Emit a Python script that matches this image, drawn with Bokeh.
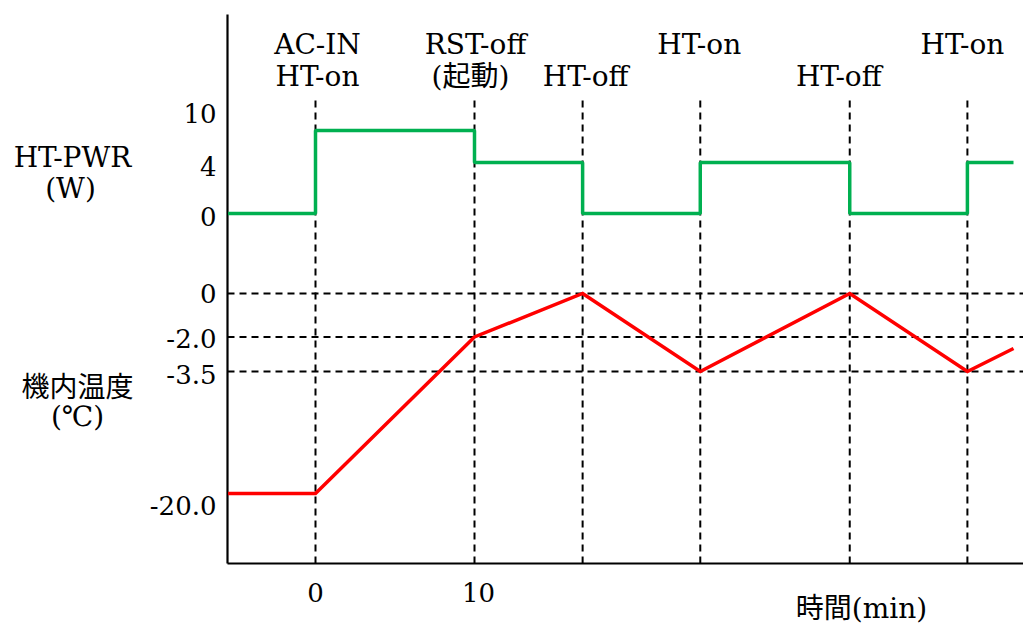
from bokeh.plotting import figure
from bokeh.models import Range1d
from bokeh.core.properties import value
from bokeh.embed import file_html
from bokeh.resources import INLINE
import numpy as np

# ---------------- data ----------------
event_times = [0, 10, 16.8, 24.2, 33.6, 41.0]          # min
power_times = [-5.5, 0, 10, 16.8, 24.2, 33.6, 41.0, 43.9]
power_w = [0, 10, 4, 0, 4, 0, 4, 4]                     # W
temp_times = [-5.5, 0, 10, 16.8, 24.2, 33.6, 41.0, 43.9]
temp_c = [-20.0, -20.0, -2.0, 0.0, -3.5, 0.0, -3.5, -2.5]  # deg C
power_ticks = [0, 4, 10]
power_tick_labels = ["0", "4", "10"]
temp_ticks = [0.0, -2.0, -3.5, -20.0]
temp_tick_labels = ["0", "-2.0", "-3.5", "-20.0"]
temp_ref_lines = [0.0, -2.0, -3.5]
x_ticks = [0, 10]
x_tick_labels = ["0", "10"]
event_row1 = ["AC-IN", "RST-off", None, "HT-on", None, "HT-on"]
event_row2 = ["HT-on", "(起動)", "HT-off", None, "HT-off", None]
titles = ["HT-PWR", "(W)", "機内温度", "(℃)", "時間(min)"]

# ------------- schematic layout (non-linear vertical scale) -------------
# canvas geometry in pixels; vertical unit = pixels above the time axis
W, H = 1023, 627
AXIS_PX_X, AXIS_PX_Y = 227, 563
PX_PER_MIN = 15.9
ORIGIN_PX = 315                      # where t = 0 sits
X0 = (0 - ORIGIN_PX) / PX_PER_MIN
X1 = (W - ORIGIN_PX) / PX_PER_MIN
T_AXIS = (AXIS_PX_X - ORIGIN_PX) / PX_PER_MIN

POWER_LEVEL_Y = {0: 350, 4: 401, 10: 433}
TEMP_LEVEL_KEYS = [-20.0, -3.5, -2.0, 0.0]
TEMP_LEVEL_POS = [70, 192, 226.5, 270]
POWER_LABEL_Y = {0: 347, 4: 397, 10: 450}
TEMP_LABEL_Y = {0.0: 270, -2.0: 225, -3.5: 189, -20.0: 58}


def power_y(v):
    return POWER_LEVEL_Y[v]


def temp_y(v):
    return float(np.interp(v, TEMP_LEVEL_KEYS, TEMP_LEVEL_POS))


def px_x(px):
    return (px - ORIGIN_PX) / PX_PER_MIN


def px_y(py):
    return AXIS_PX_Y - py


SERIF = "DejaVu Serif, Noto Sans CJK JP"
TICK_FS = "26px"
TXT_FS = "28px"

p = figure(width=W, height=H, output_backend="svg", toolbar_location=None,
           x_range=Range1d(X0, X1), y_range=Range1d(px_y(H), px_y(0)),
           x_axis_location=None, y_axis_location=None,
           min_border=0, min_border_left=0, min_border_right=0,
           min_border_top=0, min_border_bottom=0)
p.outline_line_color = None
p.xgrid.visible = False
p.ygrid.visible = False
p.background_fill_color = "white"
p.border_fill_color = "white"

# dashed reference lines
n = len(event_times)
p.segment(x0=event_times, x1=event_times, y0=[0] * n, y1=[px_y(98)] * n,
          line_color="black", line_width=2, line_dash="7 5")
hy = [temp_y(v) for v in temp_ref_lines]
p.segment(x0=[T_AXIS] * len(hy), x1=[X1] * len(hy), y0=hy, y1=hy,
          line_color="black", line_width=2, line_dash="7 5")

# axis lines
p.segment(x0=[T_AXIS, T_AXIS], y0=[0, 0], x1=[T_AXIS, X1], y1=[px_y(14), 0],
          line_color="black", line_width=2.2)

# series
p.step(x=power_times, y=[power_y(v) for v in power_w], mode="after",
       line_color="#00B050", line_width=3.5)
p.line(x=temp_times, y=[temp_y(v) for v in temp_c], line_color="#FF0000", line_width=3.5,
       line_join="miter")

# tick labels
p.text(x=x_ticks, y=[px_y(592)] * len(x_ticks), text=x_tick_labels, x_offset=[0, 4],
       text_align="center", text_baseline="middle", text_font=value("DejaVu Serif"),
       text_font_size=value(TICK_FS), text_color="black")
ypos = [POWER_LABEL_Y[v] for v in power_ticks] + [TEMP_LABEL_Y[v] for v in temp_ticks]
ylab = power_tick_labels + temp_tick_labels
p.text(x=[T_AXIS] * len(ypos), y=ypos, text=ylab, x_offset=-11,
       text_align="right", text_baseline="middle", text_font=value("DejaVu Serif"),
       text_font_size=value(TICK_FS), text_color="black")

# event labels above the chart
row1_off = [2, 1, 0, -1, 0, -5]
row2_off = [2, -4, 3, 0, -11, 0]
ex, ey, et, eo = [], [], [], []
for t, a, b, o1, o2 in zip(event_times, event_row1, event_row2, row1_off, row2_off):
    if a:
        ex.append(t); ey.append(px_y(44)); et.append(a); eo.append(o1)
    if b:
        ex.append(t); ey.append(px_y(76)); et.append(b); eo.append(o2)
p.text(x=ex, y=ey, text=et, x_offset=eo, text_align="center", text_baseline="middle",
       text_font=value(SERIF), text_font_size=value(TXT_FS), text_color="black")

# axis titles
title_px = [(72, 157), (70, 188), (77, 387), (77, 416), (861, 608)]
p.text(x=[px_x(a) for a, b in title_px], y=[px_y(b) for a, b in title_px], text=titles,
       text_align="center", text_baseline="middle", text_font=value(SERIF),
       text_font_size=value(TXT_FS), text_color="black")

open("out.html", "w").write(file_html(p, INLINE))
